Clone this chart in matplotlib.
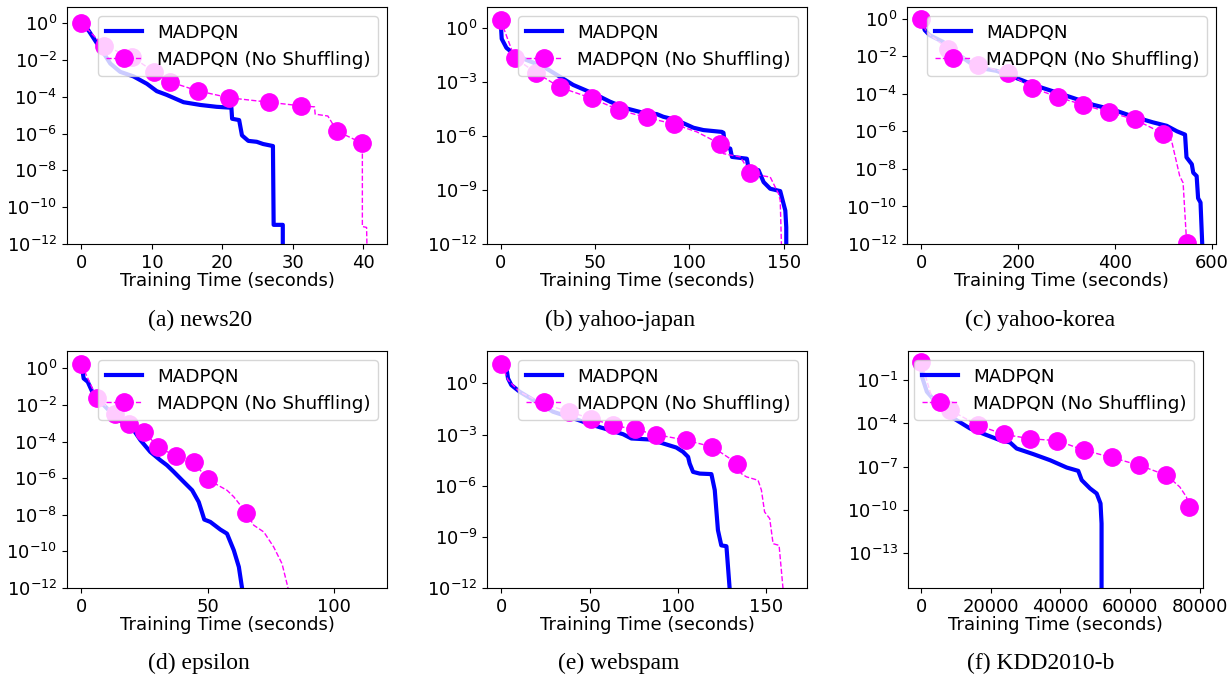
import numpy as np
import matplotlib
matplotlib.use('Agg')
from matplotlib import pyplot as plt
from matplotlib.ticker import NullLocator

# values; y values are stored as log10 of the plotted quantity
# (a) news20
news20_x = [0, 1.0, 2.2, 3.2, 4.1, 5.5, 7.4, 9.3, 10.7, 12.1, 14.5, 16.9, 19.2, 21.3,
            21.4, 22.4, 22.8, 23.7, 24.9, 25.8, 27.2, 27.3, 28.6, 28.6]
news20_y = [0, -0.4, -1.1, -1.66, -2.2, -2.65, -2.9, -3.3, -3.7, -3.9, -4.3, -4.45, -4.55, -4.6,
            -5.2, -5.27, -6.1, -6.4, -6.45, -6.57, -6.68, -10.96, -10.96, -13]
news20_ns_x = [0, 3.2, 7.2, 10.3, 12.6, 16.5, 21.0, 26.6, 31.2, 33.1, 33.2, 35.0, 36.3, 39.9,
               39.9, 40.5, 40.6]
news20_ns_y = [0, -1.26, -1.84, -2.65, -3.2, -3.68, -4.06, -4.3, -4.5, -4.55, -4.95, -5.05, -5.87,
               -6.53, -11.05, -11.1, -13]
news20_ns_marks = [0, 1, 2, 3, 4, 5, 6, 7, 8, 12, 13]

# (b) yahoo-japan
japan_x = [0, 0.5, 3, 6.5, 13.6, 22.5, 31.3, 38.4, 45.5, 50.8, 57.9, 66.8, 75.6, 82.7, 86.2,
           93.3, 102.2, 107.5, 117.2, 118.1, 119.0, 121.7, 122.6, 130.5, 131.4, 136.7, 139.4,
           142.9, 148.2, 150.9, 151.4, 151.4]
japan_y = [0.3, -0.6, -1.1, -1.4, -1.77, -2.14, -2.7, -3.16, -3.48, -3.72, -4.09, -4.47, -4.71,
           -4.78, -4.93, -5.12, -5.54, -5.67, -5.77, -5.82, -6.6, -6.7, -7.16, -7.26, -7.81, -7.9,
           -8.56, -8.93, -9.06, -10.14, -11.07, -13]
japan_ns_x = [0, 7.4, 18.6, 31.3, 48.2, 62.9, 77.4, 91.9, 104, 116, 118.1, 127, 128.7, 132.3,
              137.6, 142.9, 147.3, 148.2, 149.1]
japan_ns_y = [0.43, -1.67, -2.47, -3.29, -3.9, -4.56, -4.97, -5.34, -5.77, -6.42, -6.98, -7.16,
              -7.44, -8.06, -8.19, -8.28, -9.21, -9.58, -13]
japan_ns_marks = [0, 1, 2, 3, 4, 5, 6, 7, 9, 13]

# (c) yahoo-korea
korea_x = [0, 6.9, 17, 44.8, 79, 114, 155, 203, 238, 272, 314, 355, 397, 438, 479, 507, 528,
           545, 548, 559, 562, 569, 572, 577, 581]
korea_y = [0, -0.6, -0.87, -1.23, -1.95, -2.59, -2.77, -3.22, -3.58, -3.86, -4.22, -4.58, -4.85,
           -5.21, -5.52, -5.7, -5.99, -6.17, -7.38, -7.75, -8.2, -8.38, -9.56, -9.79, -12.3]
korea_ns_x = [0, 10, 30, 55, 117, 179, 229, 283, 334, 388, 441, 500, 517, 534, 541, 548, 550]
korea_ns_y = [0, -0.7, -1.1, -1.59, -2.44, -2.91, -3.67, -4.18, -4.58, -4.98, -5.36, -6.12,
              -6.48, -8.38, -8.74, -11.8, -11.96]
korea_ns_marks = [0, 3, 4, 5, 6, 7, 8, 9, 10, 11, 16]

# (d) epsilon
eps_x = [0, 0.9, 2.5, 4.9, 7.5, 11.5, 14.8, 18.1, 20.7, 23.4, 27.3, 31.3, 33.9, 36.6, 39.9,
         43.9, 46.5, 48.7, 51.1, 55.1, 57.7, 60.4, 62.4, 63.7, 64.5]
eps_y = [0.27, -0.55, -0.73, -1.46, -1.82, -2.37, -2.83, -3.05, -3.37, -3.92, -4.56, -5.02,
         -5.29, -5.65, -6.11, -6.66, -7.3, -8.26, -8.39, -8.81, -9.03, -9.94, -10.85, -12.04, -13]
eps_ns_x = [0, 6.2, 13.5, 18.8, 25, 30.3, 37.5, 44.5, 50, 57.7, 60.4, 65.4, 68.3, 72.3, 76.2,
            79.5, 81.8, 82.5]
eps_ns_y = [0.22, -1.64, -2.5, -3.06, -3.47, -4.29, -4.8, -5.11, -6.07, -6.66, -7.02, -7.9,
            -8.57, -8.94, -9.76, -10.67, -11.95, -13]
eps_ns_marks = [0, 1, 2, 3, 4, 5, 6, 7, 8, 11]

# (e) webspam
spam_x = [0, 2.8, 3.8, 5.7, 10.4, 19.8, 29.2, 42.5, 51.9, 61.3, 68.9, 73.6, 84, 91.5, 99,
          102.8, 105.7, 106.6, 108.5, 112.3, 118.9, 120.8, 121.7, 122.6, 124.5, 127.4, 129.2, 129.5]
spam_y = [1.14, 0.98, 0.29, -0.1, -0.49, -1.08, -1.66, -2.11, -2.45, -2.74, -2.98, -3.23, -3.29,
          -3.52, -3.76, -4.01, -4.31, -4.7, -5.19, -5.29, -5.32, -6.26, -7.44, -8.61, -9.5, -9.55,
          -12, -13]
spam_ns_x = [0, 3.8, 10.4, 24, 38.3, 50.6, 63.2, 75.5, 87.7, 104.3, 119.4, 133.6, 135.8, 138.7,
             145.3, 147.2, 149, 151.9, 153.8, 157.2, 159.4, 159.8]
spam_ns_y = [1.14, 0.2, -0.5, -1.2, -1.66, -2.06, -2.45, -2.7, -3.0, -3.33, -3.72, -4.7, -5.29,
             -5.48, -5.68, -6.26, -7.54, -7.93, -9.4, -9.5, -12, -13]
spam_ns_marks = [0, 4, 5, 6, 7, 8, 9, 10, 11]

# (f) KDD2010-b
kdd_x = [0, 190, 1600, 4500, 9300, 14000, 18800, 22600, 25500, 27400, 32200, 37000, 41800,
         45100, 46100, 48500, 50400, 51500, 51800, 51800]
kdd_y = [0.16, -0.77, -1.81, -2.62, -3.66, -4.36, -4.82, -5.17, -5.33, -5.75, -6.14, -6.56,
         -7.07, -7.3, -7.94, -8.52, -8.87, -9.56, -10.95, -16]
kdd_ns_x = [0, 3000, 8300, 16150, 23800, 31250, 39090, 46730, 54660, 62500, 70430, 74260,
            76170, 76930]
kdd_ns_y = [0.27, -2.2, -3.08, -4.13, -4.77, -5.07, -5.21, -5.86, -6.37, -6.9, -7.6, -8.41,
            -9.1, -9.8]
kdd_ns_marks = [0, 2, 3, 4, 5, 6, 7, 8, 9, 10, 13]

captions = ['(a) news20', '(b) yahoo-japan', '(c) yahoo-korea',
            '(d) epsilon', '(e) webspam', '(f) KDD2010-b']

panels = [
    (news20_x, news20_y, news20_ns_x, news20_ns_y, news20_ns_marks,
     (-2.05, 43.4), (-12, 0.87), [0, 10, 20, 30, 40], range(0, -13, -2)),
    (japan_x, japan_y, japan_ns_x, japan_ns_y, japan_ns_marks,
     (-7.3, 162.4), (-12, 1.17), [0, 50, 100, 150], range(0, -13, -3)),
    (korea_x, korea_y, korea_ns_x, korea_ns_y, korea_ns_marks,
     (-29.7, 609), (-12, 0.63), [0, 200, 400, 600], range(0, -13, -2)),
    (eps_x, eps_y, eps_ns_x, eps_ns_y, eps_ns_marks,
     (-5.7, 121.1), (-12, 0.95), [0, 50, 100], range(0, -13, -2)),
    (spam_x, spam_y, spam_ns_x, spam_ns_y, spam_ns_marks,
     (-8.1, 173), (-12, 1.9), [0, 50, 100, 150], range(0, -13, -3)),
    (kdd_x, kdd_y, kdd_ns_x, kdd_ns_y, kdd_ns_marks,
     (-3822, 80950), (-15.42, 1.01), [0, 20000, 40000, 60000, 80000], range(-1, -14, -3)),
]

# axes boxes in pixels: left, top, right, bottom
boxes = [(67, 7, 387, 244), (487, 7, 807, 244), (907, 7, 1216, 244),
         (67, 351, 387, 588), (487, 351, 807, 588), (908, 351, 1203, 588)]
caption_pos = [(200, 320), (620, 320), (1040, 320), (199, 663), (619, 663), (1041, 663)]

W, H = 1231, 674
fig = plt.figure(figsize=(W / 100, H / 100), dpi=100)

for i, p in enumerate(panels):
    x1, y1, x2, y2, marks, xl, yl, xt, yt = p
    l, t, r, b = boxes[i]
    ax = fig.add_axes([l / W, 1 - b / H, (r - l) / W, (b - t) / H])
    ax.plot(x1, 10.0 ** np.array(y1), c='#0000ff', lw=3, label='MADPQN')
    ax.plot(x2, 10.0 ** np.array(y2), c='#ff00ff', ls='--', lw=1, marker='o',
            markersize=12.5, markevery=marks, label='MADPQN (No Shuffling)')
    ax.set_yscale('log')
    ax.set_xlim(xl)
    ax.set_ylim(10.0 ** yl[0], 10.0 ** yl[1])
    ax.set_xticks(xt)
    ax.set_yticks([10.0 ** k for k in yt])
    ax.yaxis.set_minor_locator(NullLocator())
    ax.tick_params(axis='both', which='major', labelsize=13)
    ax.set_xlabel('Training Time (seconds)', fontsize=13, labelpad=0)
    ax.legend(loc='upper right', fontsize=13.2, numpoints=1)
    cx, cy = caption_pos[i]
    fig.text(cx / W, 1 - cy / H, captions[i], ha='center', va='center',
             family='Liberation Serif', fontsize=17)

plt.savefig('out.png', dpi=100)
